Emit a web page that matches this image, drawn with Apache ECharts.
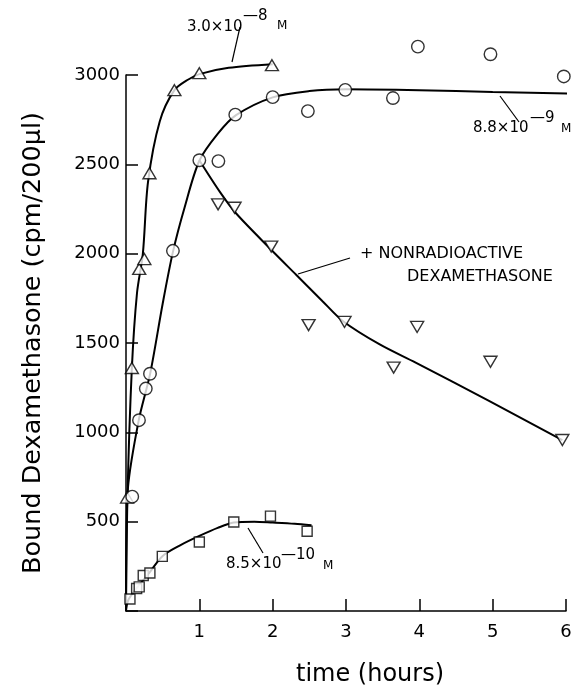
<!DOCTYPE html>
<html>
<head>
<meta charset="utf-8">
<script src="https://cdn.jsdelivr.net/npm/echarts@6/dist/echarts.min.js"></script>
<style>
  html, body { margin: 0; padding: 0; background: #fff; }
  #main { width: 581px; height: 692px; }
</style>
</head>
<body>
<div id="main"></div>
<script>
// measured points [hours, cpm/200µl]
var pts30 = [[0.015, 635], [0.08, 1360], [0.18, 1915], [0.25, 1970], [0.32, 2450], [0.66, 2915], [1.0, 3010], [1.99, 3055]];
var fit30 = [[0, 0], [0.02, 640], [0.08, 1360], [0.15, 1780], [0.23, 2000], [0.3, 2400], [0.46, 2740], [0.66, 2915], [0.85, 2975], [1.0, 3005], [1.4, 3040], [2.0, 3060]];

var pts88 = [[0.085, 640], [0.177, 1068], [0.27, 1245], [0.327, 1328], [0.64, 2016], [1.0, 2523], [1.26, 2518], [1.49, 2778], [2.0, 2876], [2.48, 2798], [2.99, 2917], [3.64, 2871], [3.98, 3159], [4.97, 3116], [5.97, 2992]];
var fit88 = [[0, 0], [0.02, 650], [0.17, 1060], [0.33, 1330], [0.5, 1720], [0.64, 2010], [0.8, 2260], [1.0, 2520], [1.25, 2670], [1.5, 2775], [2.0, 2875], [2.5, 2910], [3.0, 2920], [4.0, 2915], [5.0, 2905], [6.2, 2895]];

var ptsCold = [[1.256, 2276], [1.48, 2257], [1.98, 2040], [2.49, 1600], [2.98, 1618], [3.65, 1362], [3.97, 1590], [4.97, 1395], [5.95, 957]];
var fitCold = [[1.0, 2523], [1.28, 2346], [1.5, 2226], [1.98, 2022], [2.32, 1882], [2.68, 1734], [2.96, 1622], [3.46, 1492], [3.95, 1390], [4.95, 1176], [5.95, 957]];

var pts85 = [[0.054, 67], [0.145, 126], [0.18, 135], [0.235, 199], [0.326, 213], [0.495, 306], [1.0, 386], [1.47, 498], [1.97, 531], [2.47, 446]];
var fit85 = [[0, 0], [0.03, 60], [0.14, 125], [0.32, 215], [0.5, 308], [0.75, 370], [1.0, 420], [1.25, 465], [1.47, 495], [1.75, 500], [2.0, 495], [2.3, 488], [2.53, 480]];

var FONT = 'DejaVu Sans';

var myChart = echarts.init(document.getElementById('main'));

function curve(data) {
  return {
    type: 'line', data: data, smooth: 0.3,
    showSymbol: false, symbol: 'none', clip: false, silent: true,
    lineStyle: { color: '#000', width: 2 }, z: 2
  };
}
function dots(data, symbol, size, rot) {
  return {
    type: 'scatter', data: data, symbol: symbol, symbolSize: size,
    symbolRotate: rot || 0, clip: false,
    itemStyle: { color: '#fff', borderColor: '#000', borderWidth: 1.4 }, z: 3
  };
}
function txt(x, y, s, size) {
  return {
    type: 'text', left: x, top: y - size / 2 - 1,
    style: { text: s, font: size + 'px "' + FONT + '"', fill: '#000' }
  };
}
function lead(x1, y1, x2, y2) {
  return {
    type: 'line', shape: { x1: x1, y1: y1, x2: x2, y2: y2 },
    style: { stroke: '#000', lineWidth: 1.2 }
  };
}

var option = {
  animation: false,
  backgroundColor: '#fff',
  grid: { left: 126, right: 15, top: 75, bottom: 81, containLabel: false },
  xAxis: {
    type: 'value', min: 0, max: 6, interval: 1,
    axisLine: { lineStyle: { color: '#000', width: 1.5 } },
    axisTick: { inside: true, length: 12, lineStyle: { color: '#000', width: 1.5 } },
    axisLabel: { color: '#000', fontSize: 18, fontFamily: FONT, margin: 12,
      formatter: function (v) { return v === 0 ? '' : v; } },
    splitLine: { show: false },
    name: 'time (hours)', nameLocation: 'middle', nameGap: 52,
    nameTextStyle: { color: '#000', fontSize: 24, fontFamily: FONT, padding: [0, 0, 0, 48] }
  },
  yAxis: {
    type: 'value', min: 0, max: 3000, interval: 500,
    axisLine: { lineStyle: { color: '#000', width: 1.5 } },
    axisTick: { inside: true, length: 12, lineStyle: { color: '#000', width: 1.5 } },
    axisLabel: { color: '#000', fontSize: 18, fontFamily: FONT, margin: 6,
      formatter: function (v) { return v === 0 ? '' : v; } },
    splitLine: { show: false },
    name: 'Bound Dexamethasone (cpm/200µl)', nameLocation: 'middle', nameGap: 80,
    nameTextStyle: { color: '#000', fontSize: 25.5, fontFamily: FONT }
  },
  series: [
    curve(fit30), dots(pts30, 'triangle', [13, 11]),
    curve(fit88), dots(pts88, 'circle', 12.5),
    curve(fitCold), dots(ptsCold, 'triangle', [13, 11], 180),
    curve(fit85), dots(pts85, 'rect', 10)
  ],
  graphic: [
    txt(187, 28, '3.0×10', 15), txt(243, 17, '—8', 15), txt(277, 27, 'M', 12),
    lead(240, 27, 232, 62),
    txt(473, 129, '8.8×10', 15), txt(530, 119, '—9', 15), txt(561, 130, 'M', 12),
    lead(500, 96, 519, 122),
    txt(360, 255, '+ NONRADIOACTIVE', 16), txt(407, 278, 'DEXAMETHASONE', 16),
    lead(298, 274, 350, 258),
    txt(226, 565, '8.5×10', 15), txt(281, 556, '—10', 15), txt(323, 567, 'M', 12),
    lead(248, 528, 263, 553)
  ]
};

myChart.setOption(option);
</script>
</body>
</html>
